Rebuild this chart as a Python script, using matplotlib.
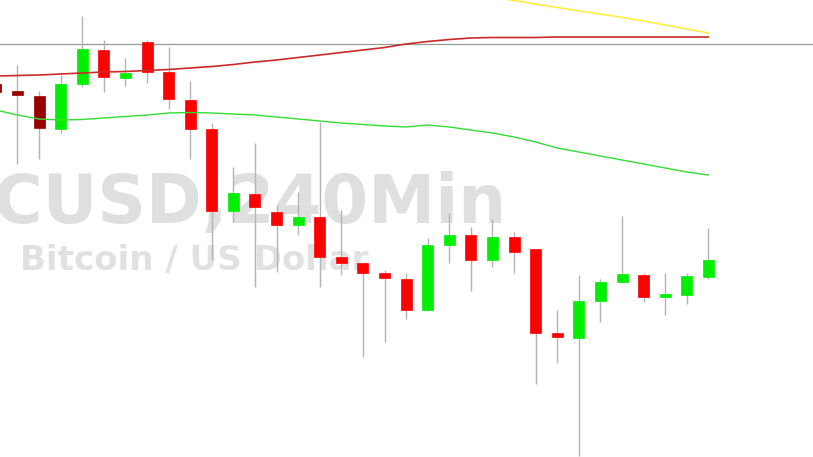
import numpy as np
import matplotlib
matplotlib.use("Agg")
import matplotlib.pyplot as plt

# chart units: 0 = bottom of the picture, 457 = top (no price axis is shown)
opens = [373, 366, 361, 328, 373, 407, 379, 415, 385, 357, 328, 246, 263, 245, 232, 240, 200, 194, 184, 178, 147, 212, 222, 197, 220, 208, 124, 119, 156, 175, 182, 160, 162, 180]
highs = [377, 392, 366, 382, 441, 417, 399, 417, 410, 376, 334, 290, 314, 252, 265, 335, 247, 194, 187, 184, 219, 244, 230, 238, 225, 208, 147, 182, 178, 241, 184, 184, 184, 229]
lows = [357, 293, 298, 324, 370, 365, 371, 374, 348, 298, 197, 235, 170, 185, 222, 170, 182, 100, 115, 138, 146, 194, 166, 190, 184, 73, 94, 1, 135, 174, 155, 142, 153, 178]
closes = [365, 362, 329, 373, 408, 380, 384, 385, 358, 328, 246, 264, 250, 232, 240, 200, 194, 184, 179, 147, 212, 222, 197, 220, 205, 124, 120, 156, 175, 183, 160, 163, 181, 197]
candle_colors = ["#990000"] * 3 + [None] * 31

ma_red = [381, 381.5, 382, 383, 384, 385, 385.5, 386.5, 387.5, 389, 390.5, 392.5, 395, 397, 399.5, 402, 404.5, 407, 409.5, 413, 415.5, 417.5, 419, 419.5, 419.5, 419.5, 420, 420, 420, 420, 420, 420, 420, 420]
ma_green = [347, 342, 338, 337, 337.5, 339, 340.5, 342, 344, 344.5, 344, 343, 342, 340, 338, 336, 334, 332.5, 331, 330, 332, 330, 327, 324, 320, 315, 309, 305, 301, 297, 293, 289, 285, 282]
ma_yellow = [None] * 22 + [463, 460, 456.5, 453, 449.5, 446, 443, 439.5, 436, 432, 428, 424]
ref_level = 413

symbol = "BTCUSD,240Min"
description = "Bitcoin / US Dollar"

UP = "#00ee00"
DOWN = "#ff0000"
WICK = "#b4b4b4"

fig = plt.figure(figsize=(8.13, 4.57), dpi=100)
ax = fig.add_axes([0, 0, 1, 1])
ax.set_axis_off()

# watermark sits under the candles
ax.text(0.6236, 1 - 223 / 457, symbol, transform=ax.transAxes, ha="right", va="baseline",
        fontsize=48.5, fontweight="bold", family="DejaVu Sans", color="#dfdfdf",
        zorder=0.5, clip_on=False)
ax.text(0.0246, 1 - 270 / 457, description, transform=ax.transAxes, ha="left", va="baseline",
        fontsize=24.5, fontweight="bold", family="DejaVu Sans", color="#e1e1e1",
        zorder=0.5, clip_on=False)

x = np.arange(len(opens))
o = np.array(opens, dtype=float)
h = np.array(highs, dtype=float)
l = np.array(lows, dtype=float)
c = np.array(closes, dtype=float)

cols = []
for i in range(len(o)):
    if candle_colors[i]:
        cols.append(candle_colors[i])
    else:
        cols.append(UP if c[i] >= o[i] else DOWN)

ax.vlines(x, l, h, color=WICK, lw=1, zorder=2)
bottom = np.minimum(o, c)
height = np.maximum(np.abs(c - o), 1.5)
ax.bar(x, height, bottom=bottom, width=0.51, color=cols, edgecolor=cols, lw=0.5, zorder=3)

ax.axhline(ref_level, color="#999999", lw=0.9, zorder=1)

def series(vals):
    return np.array([np.nan if v is None else v for v in vals], dtype=float)

ax.plot(x, series(ma_red), color="#cc2a2a", lw=1.2, zorder=4)
ax.plot(x, series(ma_green), color="#33dd33", lw=1.0, zorder=4)
ax.plot(x, series(ma_yellow), color="#ffee44", lw=1.2, zorder=4)

ax.set_xlim(0.19, 0.19 + 813 / 21.59)
ax.set_ylim(0, 457)

fig.savefig("out.png", dpi=100, facecolor="white")
